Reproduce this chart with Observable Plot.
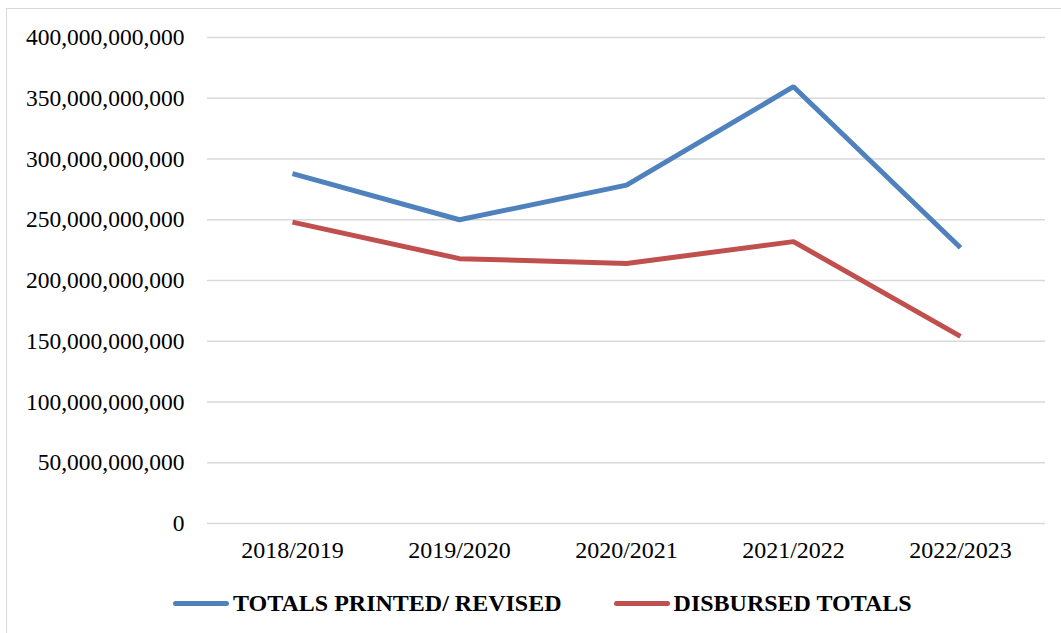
<!DOCTYPE html>
<html>
<head>
<meta charset="utf-8">
<script src="https://cdn.jsdelivr.net/npm/d3@7"></script>
<script src="https://cdn.jsdelivr.net/npm/@observablehq/plot@0.6"></script>
<style>
  html, body { margin: 0; padding: 0; background: #fff; }
  body { width: 1061px; height: 633px; position: relative; overflow: hidden; font-family: "Liberation Serif", serif; }
  #frame { position: absolute; left: 6px; top: 8px; width: 1100px; height: 700px; border: 1px solid #d9d9d9; box-sizing: border-box; pointer-events: none; }
  #chart { position: absolute; left: 0; top: 0; }
  #legend { position: absolute; left: 173px; top: 588px; height: 30px; display: flex; align-items: center; font-weight: bold; font-size: 24px; color: #000; white-space: nowrap; }
  .sw { display: inline-block; width: 56px; height: 5px; border-radius: 3px; margin-right: 4px; }
  .item { display: flex; align-items: center; }
</style>
</head>
<body>
<div id="frame"></div>
<div id="chart"></div>
<div id="legend"></div>
<script>
const years = ["2018/2019", "2019/2020", "2020/2021", "2021/2022", "2022/2023"];
const printedRevised = [288e9, 250e9, 278.5e9, 359.5e9, 227e9];
const disbursed = [248e9, 218e9, 214e9, 232e9, 154e9];
const seriesNames = ["TOTALS PRINTED/ REVISED", "DISBURSED TOTALS"];
const seriesColors = ["#4f81bd", "#c0504d"];
const yTicks = [0, 50e9, 100e9, 150e9, 200e9, 250e9, 300e9, 350e9, 400e9];

const rows = [];
years.forEach((y, i) => rows.push({year: y, value: printedRevised[i], series: seriesNames[0]}));
years.forEach((y, i) => rows.push({year: y, value: disbursed[i], series: seriesNames[1]}));

const fmt = d3.format(",");

const plot = Plot.plot({
  width: 1061,
  height: 570,
  marginLeft: 207,
  marginRight: 16,
  marginTop: 37,
  marginBottom: 47,
  style: { fontFamily: "Liberation Serif, serif", fontSize: "23.5px", color: "#000", background: "transparent" },
  x: { type: "point", domain: years, padding: 0.5, label: null },
  y: { domain: [0, 400e9], label: null },
  color: { domain: seriesNames, range: seriesColors },
  marks: [
    Plot.ruleY(yTicks, { stroke: "#d9d9d9", strokeWidth: 1.5 }),
    Plot.axisY({ ticks: yTicks, tickSize: 0, tickPadding: 23, tickFormat: fmt, label: null }),
    Plot.axisX({ tickSize: 0, tickPadding: 17, label: null, fontSize: "24px" }),
    Plot.line(rows, { x: "year", y: "value", z: "series", stroke: "series", strokeWidth: 5, strokeLinejoin: "miter", strokeLinecap: "butt" })
  ]
});
document.getElementById("chart").appendChild(plot);

const legend = document.getElementById("legend");
seriesNames.forEach((name, i) => {
  const item = document.createElement("div");
  item.className = "item";
  if (i > 0) item.style.marginLeft = "52px";
  const sw = document.createElement("span");
  sw.className = "sw";
  sw.style.background = seriesColors[i];
  const t = document.createElement("span");
  t.textContent = name;
  item.appendChild(sw);
  item.appendChild(t);
  legend.appendChild(item);
});
</script>
</body>
</html>
